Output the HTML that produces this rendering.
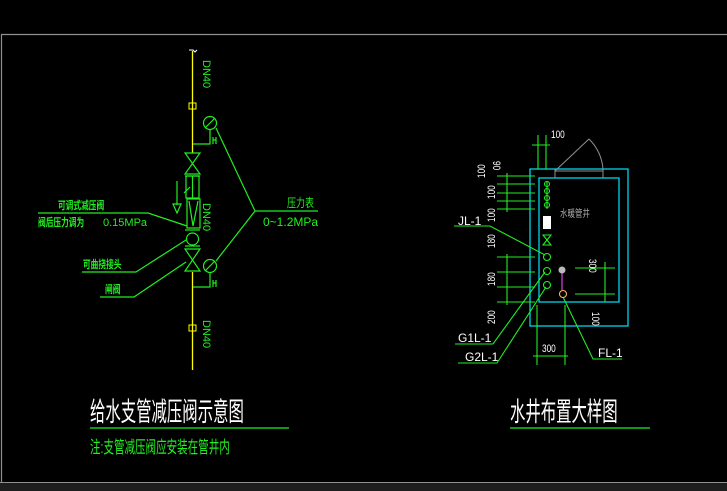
<!DOCTYPE html>
<html><head><meta charset="utf-8"><style>
html,body{margin:0;padding:0;background:#000;}
svg{display:block}
text{font-family:"Liberation Sans","Noto Sans CJK SC",sans-serif;}
</style></head><body>
<svg width="727" height="491" viewBox="0 0 727 491" xmlns="http://www.w3.org/2000/svg">
<rect x="0" y="0" width="727" height="491" fill="#000"/>
<rect x="0" y="483" width="727" height="8" fill="#1e1e1e"/>
<path d="M1.5 483 V34.5 H727" stroke="#909090" stroke-width="1.2" fill="none"/>
<line x1="0" y1="482.5" x2="727" y2="482.5" stroke="#909090" stroke-width="1"/>

<!-- left schematic -->
<g stroke="#ffff00" stroke-width="1.3">
<line x1="192.5" y1="51" x2="192.5" y2="153"/>
<line x1="192.5" y1="272" x2="192.5" y2="370"/>
</g>
<path d="M189 50 h4 l2 2 l2 -2" stroke="#fff" fill="none" stroke-width="1"/>
<g fill="none" stroke="#ffff00" stroke-width="1">
<rect x="189" y="103" width="7" height="6"/><rect x="189" y="325" width="7" height="6"/>
</g>
<g fill="none" stroke="#22ee22" stroke-width="1.2">
<circle cx="210" cy="123" r="6.5"/><line x1="205" y1="128" x2="215" y2="118"/>
<path d="M210 129.5 V144 H193"/><path d="M213 137 v7 M213 140 h3 M216 137 v7"/>
<circle cx="210" cy="266" r="6.5"/><line x1="205" y1="271" x2="215" y2="261"/>
<path d="M210 272.5 V287 H193"/><path d="M213 280 v7 M213 283 h3 M216 280 v7"/>
<path d="M185 153 H200 L185 174 H200 Z"/><line x1="185" y1="176" x2="200" y2="176"/>
<rect x="186" y="176" width="13" height="22"/>
<line x1="192.5" y1="176" x2="192.5" y2="198"/>
<path d="M184 193 l6 -6"/>
<rect x="187" y="199" width="13" height="29"/>
<path d="M189 201 L193 226 L198 201"/>
<line x1="185" y1="230" x2="200" y2="230"/>
<circle cx="192.5" cy="239" r="6"/>
<line x1="185" y1="246" x2="200" y2="246"/>
<path d="M185 249 H200 L185 271 H200 Z"/>
<line x1="177" y1="181" x2="177" y2="205"/><path d="M173 204 L177 213 L181 204 Z"/>
<path d="M216 128 L255 211 L216 261"/><line x1="255" y1="211" x2="318" y2="211"/>
<path d="M38 213 H148 L187 226"/>
<path d="M82 272 H136 L186 240"/>
<path d="M100 297 H134 L186 262"/>
</g>
<g fill="#22ee22" font-size="11">
<text x="287" y="207" font-size="12" transform="translate(287 0) scale(0.75 1) translate(-287 0)">压力表</text>
<text x="263" y="226" font-size="12">0~1.2MPa</text>
<text x="58" y="209" font-size="11" font-weight="bold" transform="translate(58 0) scale(0.7 1) translate(-58 0)">可调式减压阀</text>
<text x="38" y="226" font-size="11" font-weight="bold" transform="translate(38 0) scale(0.7 1) translate(-38 0)">阀后压力调为</text>
<text x="103" y="226" font-size="11">0.15MPa</text>
<text x="83" y="268" font-size="11" font-weight="bold" transform="translate(83 0) scale(0.7 1) translate(-83 0)">可曲挠接头</text>
<text x="105" y="293" font-size="11" font-weight="bold" transform="translate(105 0) scale(0.7 1) translate(-105 0)">闸阀</text>
<text font-size="11" transform="translate(203 60) rotate(90)">DN40</text>
<text font-size="11" transform="translate(203 203) rotate(90)">DN40</text>
<text font-size="11" transform="translate(203 320) rotate(90)">DN40</text>
</g>
<text x="90" y="421" fill="#fff" font-size="27" transform="translate(90 0) scale(0.57 1) translate(-90 0)">给水支管减压阀示意图</text>
<line x1="90" y1="428" x2="289" y2="428" stroke="#22ee22" stroke-width="1.3"/>
<text x="90" y="453" fill="#22ee22" font-size="17" transform="translate(90 0) scale(0.62 1) translate(-90 0)">注:支管减压阀应安装在管井内</text>

<!-- right detail -->
<g fill="none" stroke="#00e5ff" stroke-width="1.2">
<rect x="530" y="169" width="98" height="157"/>
<rect x="539" y="178" width="80" height="124"/>
</g>
<g fill="none" stroke="#909090" stroke-width="1">
<line x1="555" y1="171" x2="603" y2="171"/><line x1="555" y1="169" x2="555" y2="178"/><line x1="603" y1="169" x2="603" y2="178"/>
<line x1="555" y1="171" x2="589" y2="139"/>
<path d="M589 139 A48 48 0 0 1 603 169"/>
</g>
<g fill="none" stroke="#22ee22" stroke-width="1.1">
<line x1="538" y1="135" x2="538" y2="169"/><line x1="546" y1="135" x2="546" y2="169"/><line x1="532" y1="145" x2="550" y2="145"/>
<line x1="497" y1="176" x2="535" y2="176"/><line x1="497" y1="184" x2="535" y2="184"/><line x1="497" y1="193" x2="535" y2="193"/><line x1="497" y1="201" x2="535" y2="201"/><line x1="497" y1="209" x2="535" y2="209"/>
<line x1="507" y1="173" x2="507" y2="212"/>
<line x1="497" y1="257" x2="535" y2="257"/><line x1="497" y1="272" x2="535" y2="272"/><line x1="497" y1="287" x2="535" y2="287"/><line x1="497" y1="302" x2="535" y2="302"/>
<line x1="507" y1="254" x2="507" y2="305"/>
<line x1="575" y1="268" x2="615" y2="268"/><line x1="575" y1="294" x2="615" y2="294"/><line x1="605" y1="262" x2="605" y2="302"/>
<line x1="537" y1="305" x2="537" y2="365"/><line x1="565" y1="305" x2="565" y2="365"/><line x1="533" y1="356" x2="568" y2="356"/>
<circle cx="547" cy="184" r="2.5"/><circle cx="547" cy="191" r="2.5"/><circle cx="547" cy="198" r="2.5"/><circle cx="547" cy="205" r="2.5"/>
<line x1="547" y1="181" x2="547" y2="209"/>
<path d="M543 235 H551 L543 245 H551 Z"/>
<circle cx="547" cy="257" r="3.5"/><circle cx="547" cy="271" r="3.5"/><circle cx="547" cy="285" r="3.5"/>
<path d="M454 226 H490 L545 255"/>
<path d="M455 344 H493 L545 272"/>
<path d="M458 363 H497 L546 287"/>
<path d="M622 359 H593 L563 297"/>
</g>
<rect x="543" y="216" width="8" height="13" fill="#fff"/>
<line x1="562" y1="273" x2="562" y2="290" stroke="#e040e0" stroke-width="1.2"/>
<circle cx="562" cy="270" r="3.5" fill="#bbb"/>
<circle cx="563" cy="294" r="3.5" fill="none" stroke="#ffb070" stroke-width="1.1"/>
<g fill="#fff" font-size="11">
<text x="551" y="138" transform="translate(551 0) scale(0.75 1) translate(-551 0)">100</text>
<text x="560" y="217" fill="#aaa" font-size="10" transform="translate(560 0) scale(0.75 1) translate(-560 0)">水暖管井</text>
<text transform="translate(493 161) rotate(90) scale(0.75 1)">90</text>
<text transform="translate(485 178) rotate(-90) scale(0.75 1)">100</text>
<text transform="translate(495 199) rotate(-90) scale(0.75 1)">100</text>
<text transform="translate(495 222) rotate(-90) scale(0.75 1)">100</text>
<text transform="translate(495 248) rotate(-90) scale(0.75 1)">180</text>
<text transform="translate(495 286) rotate(-90) scale(0.75 1)">180</text>
<text transform="translate(495 324) rotate(-90) scale(0.75 1)">200</text>
<text transform="translate(589 259) rotate(90) scale(0.75 1)">300</text>
<text transform="translate(592 312) rotate(90) scale(0.75 1)">100</text>
<text x="542" y="352" transform="translate(542 0) scale(0.75 1) translate(-542 0)">300</text>
<text x="458" y="225" font-size="12">JL-1</text>
<text x="458" y="342" font-size="12">G1L-1</text>
<text x="465" y="361" font-size="12">G2L-1</text>
<text x="598" y="357" font-size="12">FL-1</text>
</g>
<text x="510" y="421" fill="#fff" font-size="27" transform="translate(510 0) scale(0.57 1) translate(-510 0)">水井布置大样图</text>
<line x1="510" y1="428" x2="650" y2="428" stroke="#22ee22" stroke-width="1.3"/>
</svg>
</body></html>
